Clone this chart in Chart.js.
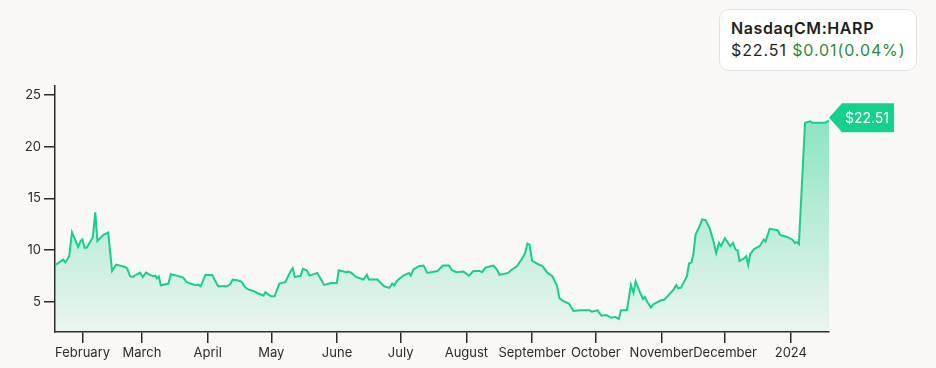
<!DOCTYPE html>
<html>
<head>
<meta charset="utf-8">
<script src="https://cdn.jsdelivr.net/npm/chart.js@4.4.0/dist/chart.umd.min.js"></script>
<style>
    html, body { margin: 0; padding: 0; background: #f9f8f6; }
    #wrap { position: relative; width: 936px; height: 368px; font-family: Inter, "Noto Sans", sans-serif; }
    #card {
        position: absolute; left: 719px; top: 9px; width: 198px; height: 62px;
        background: #fff; border: 1.5px solid #e2e1df; border-radius: 10px;
        box-sizing: border-box; padding: 8px 0 0 11px; color: #1f1f1f;
    }
    #card .name { font-size: 16px; font-weight: 600; line-height: 21px; letter-spacing: 0.6px; }
    #card .quote { font-size: 16px; line-height: 23px; letter-spacing: 0.9px; }
    #card .chg { color: #2e8b3a; }
</style>
</head>
<body>
<div id="wrap">
    <canvas id="chart"></canvas>
    <div id="card">
        <div class="name">NasdaqCM:HARP</div>
        <div class="quote">$22.51 <span class="chg">$0.01(0.04%)</span></div>
    </div>
</div>
<script>
// days counted from 2023-01-19
var startDate = '2023-01-19';

var days = [
    0, 3.9, 4.9, 6.7, 8.0, 10.9, 12.1, 12.9, 14.0, 15.0, 17.8, 19.0, 20.0, 22.8, 25.1, 26.9, 28.8,
    33.0, 34.1, 35.4, 36.7, 40.1, 41.4, 42.9, 44.8, 46.4, 47.3, 48.0, 48.9, 49.9, 53.5, 54.6, 57.4,
    60.5, 62.1, 66.2, 67.5, 68.7, 70.9, 74.1, 76.9, 81.0, 82.6, 83.8, 86.0, 87.9, 89.8, 91.4, 93.6,
    95.4, 97.7, 98.3, 99.2, 101.8, 103.6, 105.8, 108.6, 110.9, 112.1, 113.1, 115.9, 116.9, 118.7,
    120.0, 123.7, 126.9, 130.3, 132.9, 133.8, 137.3, 138.2, 139.8, 142.0, 145.5, 147.1, 148.0,
    152.1, 155.2, 157.7, 159.0, 159.9, 161.2, 164.3, 166.9, 167.8, 169.0, 171.6, 173.8, 175.6,
    180.4, 182.9, 185.7, 187.3, 189.2, 192.6, 195.2, 197.3, 200.2, 201.4, 203.0, 206.8, 208.4,
    209.6, 213.7, 215.0, 217.8, 220.0, 221.6, 222.8, 223.8, 225.0, 228.5, 229.7, 232.0, 234.5,
    236.7, 237.9, 239.5, 242.3, 244.5, 247.7, 252.1, 253.0, 255.8, 257.7, 259.9, 262.4, 264.3,
    265.9, 266.9, 269.7, 271.6, 272.8, 273.8, 276.0, 277.3, 278.2, 279.2, 281.0, 282.2, 283.9,
    285.8, 287.3, 291.7, 293.0, 293.9, 295.2, 298.0, 299.0, 300.2, 301.1, 302.1, 303.7, 305.2,
    306.8, 308.7, 310.3, 311.8, 313.1, 314.1, 315.9, 317.2, 318.4, 319.7, 320.9, 321.9, 322.8,
    325.0, 326.0, 326.9, 327.8, 329.7, 332.3, 334.2, 335.1, 337.0, 340.8, 342.0, 345.2, 347.7,
    348.9, 349.9, 350.8, 353.7, 356.2, 357.1, 363.1, 365
];

var prices = [
    8.53, 9.08, 8.82, 9.40, 11.73, 10.30, 10.89, 11.02, 10.21, 10.25, 11.21, 13.64, 10.89, 11.47, 11.70, 7.98, 8.60,
    8.37, 8.21, 7.47, 7.40, 7.83, 7.40, 7.83, 7.60, 7.47, 7.53, 7.27, 7.47, 6.60, 6.76, 7.66, 7.53,
    7.34, 6.89, 6.60, 6.66, 6.50, 7.60, 7.60, 6.50, 6.50, 6.69, 7.15, 7.08, 6.95, 6.37, 6.18, 6.05,
    5.85, 5.66, 5.60, 5.92, 5.53, 5.53, 6.76, 6.89, 7.88, 8.24, 7.40, 7.53, 8.18, 8.05,
    7.53, 7.79, 6.63, 6.82, 6.82, 8.05, 7.86, 7.92, 7.79, 7.40, 7.15, 7.60, 7.15,
    7.15, 6.50, 6.34, 6.76, 6.57, 7.02, 7.53, 7.79, 7.53, 8.12, 8.44, 8.50, 7.79,
    7.98, 8.50, 8.50, 8.05, 7.86, 7.92, 7.53, 7.98, 7.98, 7.86, 8.31, 8.50, 8.12,
    7.60, 7.79, 8.05, 8.44, 9.08, 9.67, 10.63, 10.50, 8.95, 8.56, 8.50, 7.86, 7.47,
    6.57, 5.34, 5.08, 4.83, 4.11, 4.18, 4.18, 4.05, 4.18, 3.66, 3.72, 3.47, 3.53,
    3.34, 4.18, 4.18, 6.63, 5.85, 6.95, 5.85, 5.27, 5.46, 5.02, 4.44, 4.76, 4.95,
    5.15, 5.21, 6.18, 6.63, 6.31, 6.37, 7.47, 8.70, 8.82, 9.67, 11.53, 12.18, 12.96,
    12.89, 12.12, 11.02, 9.72, 10.69, 10.37, 11.15, 10.76, 10.37, 10.69, 10.05, 9.99, 8.95,
    9.21, 9.40, 8.56, 9.60, 10.11, 10.37, 11.02, 10.83, 12.05, 11.92, 11.47, 11.27, 11.02,
    10.69, 10.76, 10.57, 22.31, 22.44, 22.31, 22.31, 22.51
];

var xTickDates = ['2023-02-01', '2023-03-01', '2023-04-01', '2023-05-01', '2023-06-01', '2023-07-01',
    '2023-08-01', '2023-09-01', '2023-10-01', '2023-11-01', '2023-12-01', '2024-01-01'];
var xTickLabels = ['February', 'March', 'April', 'May', 'June', 'July', 'August', 'September',
    'October', 'November', 'December', '2024'];
var yTicks = [5, 10, 15, 20, 25];
var lastLabel = '$22.51';

var dayOf = (s) => (Date.parse(s) - Date.parse(startDate)) / 86400000;
var xTickDays = xTickDates.map(dayOf);

var points = days.map((d, i) => ({ x: d, y: prices[i] }));

var lineGreen = '#16cf88';
var axisColor = '#2b2b2b';

var priceTag = {
    id: 'priceTag',
    afterDatasetsDraw(chart) {
        var meta = chart.getDatasetMeta(0);
        var last = meta.data[meta.data.length - 1];
        var ctx = chart.ctx;
        var x = last.x, y = last.y - 3;
        var h = 29, arrow = 13, w = 52;
        ctx.save();
        ctx.fillStyle = '#14d18b';
        ctx.beginPath();
        ctx.moveTo(x, y);
        ctx.lineTo(x + arrow, y - h / 2);
        ctx.lineTo(x + arrow + w, y - h / 2);
        ctx.lineTo(x + arrow + w, y + h / 2);
        ctx.lineTo(x + arrow, y + h / 2);
        ctx.closePath();
        ctx.fill();
        ctx.fillStyle = '#fff';
        ctx.font = '14px Inter, "Noto Sans", sans-serif';
        ctx.textAlign = 'center';
        ctx.textBaseline = 'middle';
        ctx.fillText(lastLabel, x + arrow + w / 2 - 1, y + 1);
        ctx.restore();
    }
};

var ctx = document.getElementById('chart').getContext('2d');
new Chart(ctx, {
    type: 'line',
    data: {
        datasets: [{
            data: points,
            borderColor: lineGreen,
            borderWidth: 2,
            pointRadius: 0,
            tension: 0,
            fill: 'start',
            backgroundColor: function (context) {
                var area = context.chart.chartArea;
                if (!area) return 'rgba(22,207,136,0.3)';
                var g = context.chart.ctx.createLinearGradient(0, area.top, 0, area.bottom);
                g.addColorStop(0, 'rgba(22,207,136,0.55)');
                g.addColorStop(1, 'rgba(22,207,136,0.06)');
                return g;
            }
        }]
    },
    options: {
        responsive: true,
        maintainAspectRatio: false,
        animation: false,
        layout: { padding: { top: 86, right: 107, left: 0, bottom: 0 } },
        plugins: { legend: { display: false }, tooltip: { enabled: false } },
        scales: {
            x: {
                type: 'linear',
                min: 0,
                max: 365,
                afterFit: (scale) => { scale.height = 36; },
                afterBuildTicks: (scale) => { scale.ticks = xTickDays.map(v => ({ value: v })); },
                grid: { drawOnChartArea: false, drawTicks: true, tickLength: 11, color: axisColor, lineWidth: 1.5 },
                border: { display: true, color: axisColor, width: 1.5 },
                ticks: {
                    autoSkip: false,
                    maxRotation: 0,
                    padding: 2,
                    color: '#2b2b2b',
                    font: { family: 'Inter, "Noto Sans", sans-serif', size: 13 },
                    callback: (v) => xTickLabels[xTickDays.indexOf(v)]
                }
            },
            y: {
                min: 2.08,
                max: 25.86,
                afterFit: (scale) => { scale.width = 55; },
                afterBuildTicks: (scale) => { scale.ticks = yTicks.map(v => ({ value: v })); },
                grid: { drawOnChartArea: false, drawTicks: true, tickLength: 11, color: axisColor, lineWidth: 1.5 },
                border: { display: true, color: axisColor, width: 1.5 },
                ticks: {
                    padding: 3,
                    color: '#2b2b2b',
                    font: { family: 'Inter, "Noto Sans", sans-serif', size: 13 }
                }
            }
        }
    },
    plugins: [priceTag]
});
</script>
</body>
</html>
